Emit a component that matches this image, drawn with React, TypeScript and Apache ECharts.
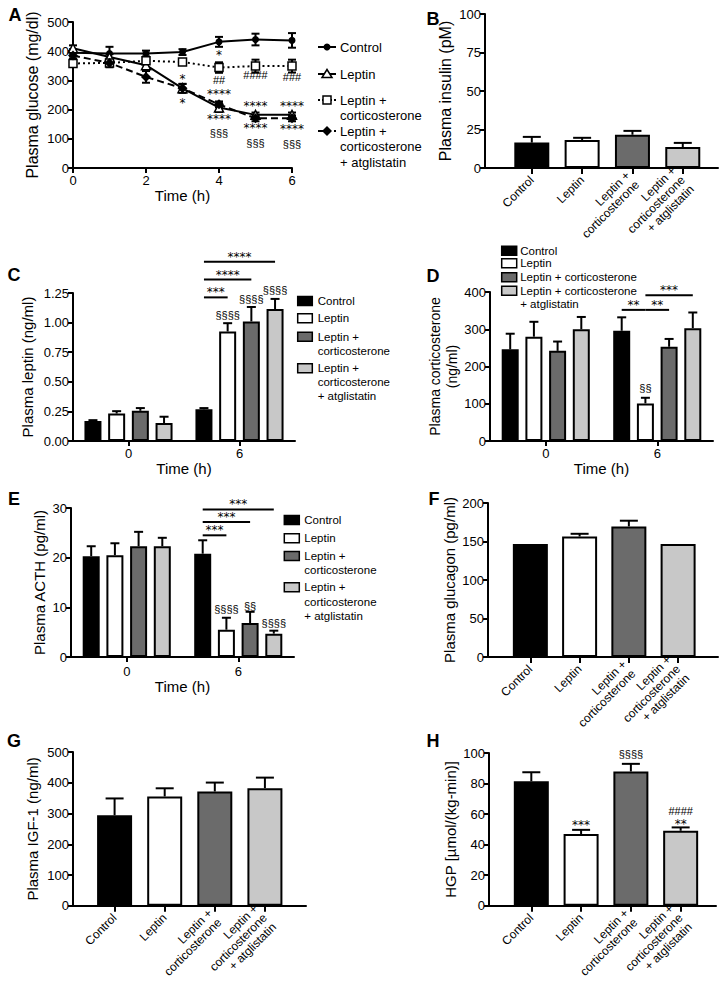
import React, { useEffect, useRef } from "react";
import * as echarts from "echarts";

const FONT = '"Liberation Sans", Arial, Helvetica, sans-serif';
const STAR_FONT = '"DejaVu Sans", "Liberation Sans", sans-serif';

// ---------- shared ----------
const GROUP_COLORS = ["#000000", "#ffffff", "#6b6b6b", "#c8c8c8"];
const CATEGORY_LABELS = ["Control", "Leptin", "Leptin +\ncorticosterone", "Leptin +\ncorticosterone\n+ atglistatin"];
const WIDE_LEGEND_LABELS = ["Control", "Leptin", "Leptin + corticosterone", "Leptin + corticosterone\n+ atglistatin"];
const TIME_POINTS = ["0", "6"];

// ---------- A: plasma glucose time course ----------
const A_HOURS = [0, 1, 2, 3, 4, 5, 6];
const A_CONTROL = [395, 392, 392, 397, 432, 440, 437];
const A_CONTROL_ERR = [12, 23, 10, 10, 17, 20, 25];
const A_LEPTIN = [410, 380, 352, 273, 207, 182, 182];
const A_LEPTIN_ERR = [10, 10, 15, 15, 15, 8, 8];
const A_LC = [358, 360, 367, 363, 344, 349, 349];
const A_LC_ERR = [10, 10, 10, 8, 18, 22, 22];
const A_LCA = [385, 360, 312, 273, 218, 170, 170];
const A_LCA_ERR = [10, 15, 20, 15, 10, 10, 10];
const A_NOTE_HOUR = [3, 3, 4, 4, 4, 4, 4, 5, 5, 5, 5, 6, 6, 6, 6];
const A_NOTE_Y = [306, 224, 386, 303, 255, 167, 121, 318, 212, 137, 87, 312, 212, 133, 81];
const A_NOTE_TEXT = ["*", "*", "*", "##", "****", "****", "§§§", "####", "****", "****", "§§§", "###", "****", "****", "§§§"];

// ---------- B: insulin ----------
const B_VALUES = [16.5, 18.2, 21.6, 13.6];
const B_ERR_TOP = [20.2, 19.6, 24.1, 16.3];

// ---------- C: leptin (rows = group, cols = time 0 / 6) ----------
const C_VALUES = [[0.168, 0.268], [0.232, 0.925], [0.255, 1.01], [0.152, 1.115]];
const C_ERR_TOP = [[0.176, 0.278], [0.252, 0.995], [0.278, 1.132], [0.205, 1.2]];
const C_SIG_FROM = [0, 0, 0];
const C_SIG_TO = [3, 2, 1];
const C_SIG_Y = [1.513, 1.363, 1.213];
const C_SIG_TEXT = ["****", "****", "***"];
const C_MARK_BAR = [1, 2, 3];
const C_MARK_Y = [1.066, 1.199, 1.278];
const C_MARK_TEXT = ["§§§§", "§§§§", "§§§§"];

// ---------- D: corticosterone ----------
const D_VALUES = [[246, 296], [280, 101], [242, 253], [300, 303]];
const D_ERR_TOP = [[288, 332], [320, 116], [267, 274], [333, 345]];
const D_SIG_FROM = [0, 1, 1];
const D_SIG_TO = [1, 2, 3];
const D_SIG_Y = [352, 352, 391];
const D_SIG_TEXT = ["**", "**", "***"];
const D_MARK_BAR = [1];
const D_MARK_Y = [143];
const D_MARK_TEXT = ["§§"];

// ---------- E: ACTH ----------
const E_VALUES = [[20.3, 20.8], [20.5, 5.5], [22.3, 6.85], [22.3, 4.7]];
const E_ERR_TOP = [[22.3, 23.5], [22.9, 7.9], [25.2, 9.1], [24.0, 5.3]];
const E_SIG_FROM = [0, 0, 0];
const E_SIG_TO = [3, 2, 1];
const E_SIG_Y = [29.7, 27.2, 24.5];
const E_SIG_TEXT = ["***", "***", "***"];
const E_MARK_BAR = [1, 2, 3];
const E_MARK_Y = [9.74, 10.27, 6.85];
const E_MARK_TEXT = ["§§§§", "§§", "§§§§"];

// ---------- F: glucagon ----------
const F_VALUES = [146.6, 156.5, 169.6, 146.6];
const F_ERR_TOP = [146.6, 160, 177, 146.6];

// ---------- G: IGF-1 ----------
const G_VALUES = [294.5, 355.5, 371.6, 382.5];
const G_ERR_TOP = [349, 382, 400.6, 416.7];

// ---------- H: HGP ----------
const H_VALUES = [81.5, 47, 87.9, 49.1];
const H_ERR_TOP = [87.4, 49.7, 92.9, 51.3];
const H_MARK_BAR = [1, 2, 3, 3];
const H_MARK_Y = [52.8, 99.2, 62, 53.6];
const H_MARK_TEXT = ["***", "§§§§", "####", "**"];

// ---------- layout (pixels) ----------
const LAYOUT: any = {
  A: { left: 73, top: 22, width: 219, height: 146 },
  B: { left: 485, top: 14, width: 233, height: 154, xMax: 4.63, first: 0.93 },
  C: { left: 73, top: 293, width: 222, height: 148 },
  D: { left: 490, top: 292, width: 223, height: 149 },
  E: { left: 71, top: 508, width: 223, height: 149 },
  F: { left: 488, top: 503, width: 230, height: 154, xMax: 4.67, first: 0.86 },
  G: { left: 73, top: 752, width: 233, height: 155, xMax: 4.65, first: 0.83 },
  H: { left: 489, top: 753, width: 227, height: 154, xMax: 4.56, first: 0.85 },
};
const GROUP_STEP_PX = 23.7;
const AX = { color: "#000", width: 2 };

function groupedPos(L: any, g: number, s: number) {
  return g + 0.5 + (s - 1.5) * (GROUP_STEP_PX / (L.width / 2));
}

function catXAxis(gi: number, L: any) {
  const pos = CATEGORY_LABELS.map((_, i) => L.first + i);
  return {
    type: "value", gridIndex: gi, min: 0, max: L.xMax,
    axisLine: { lineStyle: AX },
    axisTick: { customValues: pos, length: 6, lineStyle: AX },
    axisLabel: {
      customValues: pos,
      formatter: (v: number) => CATEGORY_LABELS[Math.round(v - L.first)] ?? "",
      rotate: 45, fontFamily: FONT, fontSize: 12, lineHeight: 13, color: "#000", margin: 10,
    },
    splitLine: { show: false },
  };
}

function timeXAxis(gi: number, nameGap: number, margin: number) {
  const pos = [0.5, 1.5];
  return {
    type: "value", gridIndex: gi, min: 0, max: 2,
    name: "Time (h)", nameLocation: "middle", nameGap,
    nameTextStyle: { fontFamily: FONT, fontSize: 15, color: "#000" },
    axisLine: { lineStyle: AX },
    axisTick: { customValues: pos, length: 5, lineStyle: AX },
    axisLabel: {
      customValues: pos,
      formatter: (v: number) => TIME_POINTS[Math.round(v - 0.5)] ?? "",
      fontFamily: FONT, fontSize: 13, color: "#000", margin,
    },
    splitLine: { show: false },
  };
}

function yAxisDef(gi: number, max: number, interval: number, name: string, nameGap: number, fontSize: number, fmt?: (v: number) => string) {
  return {
    type: "value", gridIndex: gi, min: 0, max, interval,
    name, nameLocation: "middle", nameGap, nameRotate: 90,
    nameTextStyle: { fontFamily: FONT, fontSize, color: "#000", lineHeight: fontSize + 3 },
    axisLine: { show: true, lineStyle: AX },
    axisTick: { show: true, length: 5, lineStyle: AX },
    axisLabel: { fontFamily: FONT, fontSize: 13, color: "#000", margin: 4, formatter: fmt },
    splitLine: { show: false },
  };
}

function barSeries(gi: number, data: any[], barWidth: number) {
  return {
    type: "bar", xAxisIndex: gi, yAxisIndex: gi, barWidth, z: 2, silent: true,
    itemStyle: { borderColor: "#000", borderWidth: 2 },
    data,
  };
}

function catBars(gi: number, L: any, values: number[]) {
  return barSeries(gi, values.map((v, i) => ({ value: [L.first + i, v], itemStyle: { color: GROUP_COLORS[i] } })), 35);
}

function groupedBars(gi: number, L: any, values: number[][]) {
  const data: any[] = [];
  values.forEach((row, s) => row.forEach((v, g) => data.push({ value: [groupedPos(L, g, s), v], itemStyle: { color: GROUP_COLORS[s] } })));
  return barSeries(gi, data, 17);
}

function errSeries(gi: number, data: number[][], cap: number, both: boolean, z = 3) {
  return {
    type: "custom", xAxisIndex: gi, yAxisIndex: gi, z, silent: true, data,
    renderItem: (_p: any, api: any) => {
      const x = api.value(0), a = api.value(1), b = api.value(2);
      if (a === b) return null;
      const p0 = api.coord([x, a]);
      const p1 = api.coord([x, b]);
      const st = { stroke: "#000", lineWidth: 2, fill: "none" };
      const children: any[] = [
        { type: "line", shape: { x1: p0[0], y1: p0[1], x2: p1[0], y2: p1[1] }, style: st },
        { type: "line", shape: { x1: p1[0] - cap / 2, y1: p1[1], x2: p1[0] + cap / 2, y2: p1[1] }, style: st },
      ];
      if (both) children.push({ type: "line", shape: { x1: p0[0] - cap / 2, y1: p0[1], x2: p0[0] + cap / 2, y2: p0[1] }, style: st });
      return { type: "group", children };
    },
  };
}

function noteText(x: number, y: number, t: string) {
  const star = t.indexOf("*") >= 0;
  return {
    type: "text", x, y,
    style: {
      text: t, fontFamily: star ? STAR_FONT : FONT, fontSize: star ? 12 : 11, lineHeight: 9,
      fill: "#000", align: "center", verticalAlign: "middle",
    },
  };
}

function textSeries(gi: number, data: number[][], texts: string[]) {
  return {
    type: "custom", xAxisIndex: gi, yAxisIndex: gi, z: 5, silent: true, data,
    renderItem: (p: any, api: any) => {
      const pt = api.coord([api.value(0), api.value(1)]);
      return noteText(pt[0], pt[1], texts[p.dataIndex]);
    },
  };
}

function sigSeries(gi: number, data: number[][], texts: string[]) {
  return {
    type: "custom", xAxisIndex: gi, yAxisIndex: gi, z: 5, silent: true, data,
    renderItem: (p: any, api: any) => {
      const a = api.coord([api.value(0), api.value(2)]);
      const b = api.coord([api.value(1), api.value(2)]);
      return {
        type: "group",
        children: [
          { type: "line", shape: { x1: a[0], y1: a[1], x2: b[0], y2: b[1] }, style: { stroke: "#000", lineWidth: 2 } },
          noteText((a[0] + b[0]) / 2, a[1] - 5, texts[p.dataIndex]),
        ],
      };
    },
  };
}

function groupedExtras(gi: number, L: any, errTop: number[][], values: number[][], sigFrom: number[], sigTo: number[], sigY: number[], sigText: string[], markBar: number[], markY: number[], markText: string[]) {
  const errData: number[][] = [];
  values.forEach((row, s) => row.forEach((v, g) => errData.push([groupedPos(L, g, s), v, errTop[s][g]])));
  const sigData = sigY.map((y, i) => [groupedPos(L, 1, sigFrom[i]), groupedPos(L, 1, sigTo[i]), y]);
  const markData = markY.map((y, i) => [groupedPos(L, 1, markBar[i]), y]);
  return [errSeries(gi, errData, 9, false), sigSeries(gi, sigData, sigText), textSeries(gi, markData, markText)];
}

function catErr(gi: number, L: any, values: number[], top: number[]) {
  return errSeries(gi, values.map((v, i) => [L.first + i, v, top[i]]), 18, false);
}

function lineSeries(name: string, values: number[], symbol: string, size: number, fill: string, dash: any) {
  return {
    type: "line", name, xAxisIndex: 0, yAxisIndex: 0, z: 3, silent: true,
    data: A_HOURS.map((h, i) => [h, values[i]]),
    symbol, symbolSize: size, showSymbol: true,
    lineStyle: { color: "#000", width: 2, type: dash },
    itemStyle: { color: fill, borderColor: "#000", borderWidth: fill === "#000" ? 0 : 1.5 },
  };
}

function aErr(values: number[], err: number[]) {
  return errSeries(0, A_HOURS.map((h, i) => [h, values[i] - err[i], values[i] + err[i]]), 8, true, 1);
}

// ---------- legends (graphic) ----------
function squareLegend(x: number, rows: number[], labels: string[], lh: number, fontSize: number, sqW: number, sqH: number, gap: number) {
  const els: any[] = [];
  rows.forEach((r, i) => {
    els.push({ type: "rect", shape: { x, y: r - sqH / 2, width: sqW, height: sqH }, style: { fill: GROUP_COLORS[i], stroke: "#000", lineWidth: 1.5 } });
    els.push({ type: "text", x: x + sqW + gap, y: r - lh / 2, style: { text: labels[i], fontFamily: FONT, fontSize, lineHeight: lh, fill: "#000", verticalAlign: "top", align: "left" } });
  });
  return els;
}

function lineLegend() {
  const rows = [47, 74, 100, 131];
  const x1 = 318, x2 = 336, cx = 327, lh = 15.5;
  const dashes: any[] = [null, null, [2, 2], [5, 3]];
  const els: any[] = [];
  rows.forEach((r, i) => {
    els.push({ type: "line", shape: { x1, y1: r, x2, y2: r }, style: { stroke: "#000", lineWidth: 2, lineDash: dashes[i] } });
    if (i === 0) els.push({ type: "circle", shape: { cx, cy: r, r: 3.5 }, style: { fill: "#000" } });
    if (i === 1) els.push({ type: "polygon", shape: { points: [[cx, r - 4.5], [cx - 5, r + 3.5], [cx + 5, r + 3.5]] }, style: { fill: "#fff", stroke: "#000", lineWidth: 1.5 } });
    if (i === 2) els.push({ type: "rect", shape: { x: cx - 4, y: r - 4, width: 8, height: 8 }, style: { fill: "#fff", stroke: "#000", lineWidth: 1.5 } });
    if (i === 3) els.push({ type: "polygon", shape: { points: [[cx, r - 5], [cx + 5, r], [cx, r + 5], [cx - 5, r]] }, style: { fill: "#000" } });
    els.push({ type: "text", x: 340, y: r - lh / 2, style: { text: CATEGORY_LABELS[i], fontFamily: FONT, fontSize: 13, lineHeight: lh, fill: "#000", verticalAlign: "top", align: "left" } });
  });
  return els;
}

function panelLetters() {
  const letters = [["A", 15, 15], ["B", 433, 19], ["C", 14, 275], ["D", 433, 276], ["E", 14, 499], ["F", 434, 499], ["G", 14, 741], ["H", 433, 741]];
  return letters.map(([t, x, y]) => ({
    type: "text", x, y,
    style: { text: t, fontFamily: FONT, fontSize: 18, fontWeight: "bold", fill: "#000", align: "center", verticalAlign: "middle" },
  }));
}

function buildOption() {
  const L = LAYOUT;
  const order = ["A", "B", "C", "D", "E", "F", "G", "H"];
  const grid = order.map((k) => ({ left: L[k].left, top: L[k].top, width: L[k].width, height: L[k].height }));

  const xAxis = [
    {
      type: "value", gridIndex: 0, min: 0, max: 6, interval: 2,
      name: "Time (h)", nameLocation: "middle", nameGap: 20,
      nameTextStyle: { fontFamily: FONT, fontSize: 15, color: "#000" },
      axisLine: { lineStyle: AX }, axisTick: { length: 5, lineStyle: AX },
      axisLabel: { fontFamily: FONT, fontSize: 13, color: "#000", margin: 6 },
      splitLine: { show: false },
    },
    catXAxis(1, L.B),
    timeXAxis(2, 18, 6),
    timeXAxis(3, 18, 6),
    timeXAxis(4, 20, 8),
    catXAxis(5, L.F),
    catXAxis(6, L.G),
    catXAxis(7, L.H),
  ];

  const yAxis = [
    yAxisDef(0, 500, 100, "Plasma glucose (mg/dl)", 31, 16),
    yAxisDef(1, 100, 25, "Plasma insulin (pM)", 16, 16),
    yAxisDef(2, 1.25, 0.25, "Plasma leptin (ng/ml)", 37, 15, (v) => v.toFixed(2)),
    yAxisDef(3, 400, 100, "Plasma corticosterone\n(ng/ml)", 30, 14),
    yAxisDef(4, 30, 10, "Plasma ACTH (pg/ml)", 21, 15),
    yAxisDef(5, 200, 50, "Plasma glucagon (pg/ml)", 30, 15),
    yAxisDef(6, 500, 100, "Plasma IGF-1 (ng/ml)", 32, 15),
    yAxisDef(7, 100, 20, "HGP [µmol/(kg-min)]", 26, 15),
  ];

  const series: any[] = [
    // A
    aErr(A_CONTROL, A_CONTROL_ERR),
    aErr(A_LEPTIN, A_LEPTIN_ERR),
    aErr(A_LC, A_LC_ERR),
    aErr(A_LCA, A_LCA_ERR),
    lineSeries("Control", A_CONTROL, "circle", 7, "#000", "solid"),
    lineSeries("Leptin", A_LEPTIN, "triangle", 9, "#fff", "solid"),
    lineSeries("Leptin + corticosterone", A_LC, "rect", 8, "#fff", [2, 3]),
    lineSeries("Leptin + corticosterone + atglistatin", A_LCA, "diamond", 10, "#000", [7, 4]),
    textSeries(0, A_NOTE_HOUR.map((h, i) => [h, A_NOTE_Y[i]]), A_NOTE_TEXT),
    // B
    catBars(1, L.B, B_VALUES),
    catErr(1, L.B, B_VALUES, B_ERR_TOP),
    // C
    groupedBars(2, L.C, C_VALUES),
    ...groupedExtras(2, L.C, C_ERR_TOP, C_VALUES, C_SIG_FROM, C_SIG_TO, C_SIG_Y, C_SIG_TEXT, C_MARK_BAR, C_MARK_Y, C_MARK_TEXT),
    // D
    groupedBars(3, L.D, D_VALUES),
    ...groupedExtras(3, L.D, D_ERR_TOP, D_VALUES, D_SIG_FROM, D_SIG_TO, D_SIG_Y, D_SIG_TEXT, D_MARK_BAR, D_MARK_Y, D_MARK_TEXT),
    // E
    groupedBars(4, L.E, E_VALUES),
    ...groupedExtras(4, L.E, E_ERR_TOP, E_VALUES, E_SIG_FROM, E_SIG_TO, E_SIG_Y, E_SIG_TEXT, E_MARK_BAR, E_MARK_Y, E_MARK_TEXT),
    // F
    catBars(5, L.F, F_VALUES),
    catErr(5, L.F, F_VALUES, F_ERR_TOP),
    // G
    catBars(6, L.G, G_VALUES),
    catErr(6, L.G, G_VALUES, G_ERR_TOP),
    // H
    catBars(7, L.H, H_VALUES),
    catErr(7, L.H, H_VALUES, H_ERR_TOP),
    textSeries(7, H_MARK_BAR.map((b, i) => [L.H.first + b, H_MARK_Y[i]]), H_MARK_TEXT),
  ];

  const graphic = [
    ...panelLetters(),
    ...lineLegend(),
    ...squareLegend(297.7, [301, 318.3, 336.7, 368.3], CATEGORY_LABELS, 14, 11.5, 14.6, 9, 5.4),
    ...squareLegend(501.7, [250.7, 263.3, 277.3, 290.7], WIDE_LEGEND_LABELS, 13.3, 11.5, 15, 9, 3.5),
    ...squareLegend(284.3, [520, 538.3, 556, 587.3], CATEGORY_LABELS, 14.3, 11.5, 15, 9, 5),
  ];

  return {
    animation: false,
    backgroundColor: "#fff",
    textStyle: { fontFamily: FONT },
    grid, xAxis, yAxis, series, graphic,
  };
}

export default function App() {
  const ref = useRef<HTMLDivElement>(null);
  useEffect(() => {
    const chart = echarts.init(ref.current as HTMLDivElement, null, { renderer: "svg" });
    chart.setOption(buildOption() as any);
    return () => chart.dispose();
  }, []);
  return <div ref={ref} style={{ position: "absolute", left: 0, top: 0, width: 723, height: 985, background: "#fff" }} />;
}
